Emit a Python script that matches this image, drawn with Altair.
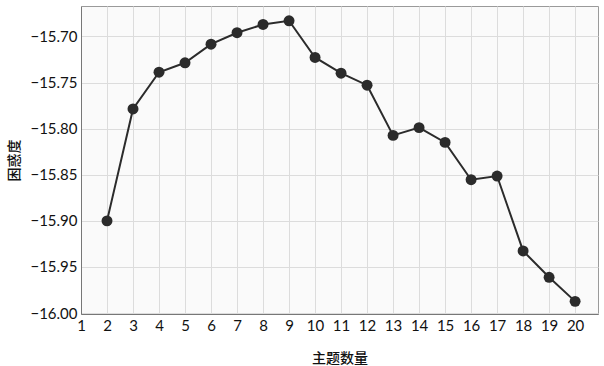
import altair as alt
import pandas as pd

topics = list(range(2, 21))
perplexity = [-15.900, -15.7786, -15.7388, -15.7286, -15.7084, -15.696, -15.687, -15.683,
              -15.7228, -15.7399, -15.7529, -15.8073, -15.7989, -15.8149, -15.8554,
              -15.8514, -15.9326, -15.9612, -15.9873]
x_ticks = list(range(1, 21))
y_ticks = [-15.70, -15.75, -15.80, -15.85, -15.90, -15.95, -16.00]

df = pd.DataFrame({"topics": topics, "perplexity": perplexity})

x_enc = alt.X("topics:Q", title="主题数量",
              scale=alt.Scale(domain=[1, 20.88], nice=False, zero=False),
              axis=alt.Axis(values=x_ticks, format="d", labelFontSize=15, labelColor="#111",
                            labelFont="Lato", ticks=False, labelPadding=4,
                            titleFont="Noto Sans CJK SC", titleFontSize=14, titleFontWeight=500,
                            titleColor="#111", titlePadding=18,
                            domainColor="#777", gridColor="#dcdcdc", labelFlush=False))
y_enc = alt.Y("perplexity:Q", title="困惑度",
              scale=alt.Scale(domain=[-16.001, -15.667], nice=False, zero=False),
              axis=alt.Axis(values=y_ticks, format=".2f", labelFontSize=15, labelColor="#111",
                            labelFont="Lato", ticks=False, labelPadding=4,
                            titleFont="Noto Sans CJK SC", titleFontSize=14, titleFontWeight=500,
                            titleColor="#111", titlePadding=8,
                            domainColor="#777", gridColor="#dcdcdc"))

base = alt.Chart(df).encode(x=x_enc, y=y_enc)
line = base.mark_line(color="#2b2b2b", strokeWidth=2)
pts = base.mark_circle(color="#2b2b2b", size=120, opacity=1)

chart = (line + pts).properties(
    width=517, height=308,
    autosize=alt.AutoSizeParams(type="none"),
    padding={"left": 81, "top": 6, "right": 6, "bottom": 52},
    background="white",
).configure_view(stroke="#9a9a9a", fill="#fafafa")

chart.save("out.html", embed_options={"renderer": "svg", "actions": False})
